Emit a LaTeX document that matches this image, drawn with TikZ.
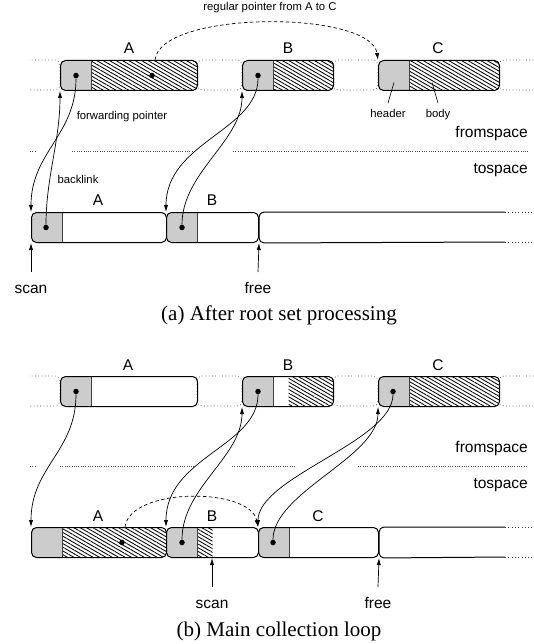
\documentclass[tikz,border=0pt]{standalone}
\usepackage{fontspec}
\setmainfont{Liberation Serif}
\setsansfont{Liberation Sans}
\usetikzlibrary{arrows.meta,patterns.meta}
\definecolor{hdrgray}{RGB}{204,204,204}

\tikzset{
  objbox/.style 2 args={draw, line width=1pt, rounded corners=5pt, minimum height=30pt, inner sep=0pt, anchor=north west,
    path picture={
      \fill[hdrgray, sharp corners] (path picture bounding box.north west) rectangle ([xshift=31pt]path picture bounding box.south west);
      \fill[pattern={Lines[angle=-30,distance=3.2pt,line width=0.85pt]}, sharp corners] ([xshift=#1]path picture bounding box.north west) rectangle ([xshift=#2]path picture bounding box.south west);
      \draw[divider, sharp corners] ([xshift=31pt]path picture bounding box.north west) -- ([xshift=31pt]path picture bounding box.south west);
    }},
  divider/.style={black!75, line width=0.8pt},
  freegap/.style={draw=black!80, line width=0.6pt, dash pattern=on 0.7pt off 2.6pt, rounded corners=5pt},
  spaceline/.style={black!70, line width=0.6pt, dash pattern=on 0.7pt off 1.6pt},
  ptdot/.style={circle, fill=black, inner sep=0pt, minimum size=5.5pt},
  ptr/.style={-{Latex[length=7pt,width=4.2pt]}, line width=0.7pt},
  dptr/.style={ptr, dash pattern=on 3.5pt off 2.5pt},
  leader/.style={line width=0.6pt},
  lblbig/.style={font=\sffamily\fontsize{15.5}{18}\selectfont, inner sep=0pt, anchor=base},
  lblsmall/.style={font=\sffamily\fontsize{11.3}{13}\selectfont, inner sep=0pt, anchor=base},
  capt/.style={font=\fontsize{21}{24}\selectfont, inner sep=0pt, anchor=base},
}

\begin{document}
\begin{tikzpicture}[x=1pt, y=-1pt]
\useasboundingbox (0,0) rectangle (534,644);

% (a) after root set processing
\begin{scope}
  \clip (29,0) rectangle (533.5,644);
  \draw[freegap] (20,60) rectangle (60,90);
  \draw[freegap] (197,60) rectangle (242,90);
  \draw[freegap] (333,60) rectangle (378,90);
  \draw[freegap] (499,60) rectangle (545,90);
  \draw[freegap] (505,212) -- (533,212);
  \draw[freegap] (505,242) -- (533,242);
\end{scope}
\node[objbox={31pt}{137pt}, minimum width=137pt] (fA) at (60,60) {};
\node[objbox={31pt}{91pt}, minimum width=91pt] (fB) at (242,60) {};
\node[objbox={31pt}{121pt}, minimum width=121pt] (fC) at (378,60) {};
\node[objbox={0pt}{0pt}, minimum width=135pt] (tA) at (31,212) {};
\node[objbox={0pt}{0pt}, minimum width=92pt] (tB) at (166,212) {};
\draw[line width=1pt, rounded corners=5pt] (505,212) -- (tB.north east) -- (tB.south east) -- (505,242);

\node[ptdot] (fAd) at ([xshift=16pt]fA.west) {};
\node[ptdot] (fAb) at ([xshift=92pt]fA.west) {};
\node[ptdot] (fBd) at ([xshift=16pt]fB.west) {};
\node[ptdot] (tAd) at ([xshift=15pt]tA.west) {};
\node[ptdot] (tBd) at ([xshift=16pt]tB.west) {};

\node[lblbig] (labA) at (129,54) {A};
\node[lblbig] (labB) at (288,54) {B};
\node[lblbig] (labC) at (438,54) {C};
\node[lblbig] (labtA) at (98,205) {A};
\node[lblbig] (labtB) at (212,205) {B};
\node[lblsmall] (regular) at (270,11) {regular pointer from A to C};
\node[lblsmall] (fwd) at (122,120) {forwarding pointer};
\node[lblsmall] (back) at (78,184) {backlink};
\node[lblsmall] (hdr) at (388,118) {header};
\node[lblsmall] (bdy) at (438,118) {body};
\node[lblbig, anchor=base east] (from1) at (528,138) {fromspace};
\node[lblbig, anchor=base east] (to1) at (528,174) {tospace};
\node[lblbig] (scan1) at (31,293) {scan};
\node[lblbig] (free1) at (258,293) {free};
\node[capt] (capa) at (279,320) {(a) After root set processing};

\draw[spaceline] (30,151) -- (36,151);
\draw[spaceline] (72,151) -- (195,151);
\draw[spaceline] (233,151) -- (528,151);

\draw[leader] ([yshift=15pt]hdr.base) -- ([xshift=16pt,yshift=-7pt]fC.west);
\draw[leader] ([yshift=15pt]bdy.base) -- ([xshift=54pt,yshift=-7pt]fC.west);

\draw[ptr] (fAd) .. controls +(0,60) and +(0,-60) .. (tA.north west);
\draw[ptr] (tAd) .. controls +(0,-50) and +(0,50) .. (fA.south west);
\draw[ptr] (fBd) .. controls +(0,55) and +(0,-70) .. (tB.north west);
\draw[ptr] (tBd) .. controls +(0,-55) and +(0,50) .. (fB.south west);
\draw[dptr] ([xshift=95pt]fA.north west) .. controls +(5,-50) and +(-7,-50) .. (fC.north west);
\draw[ptr] ([yshift=21pt]scan1.base) -- (tA.south west);
\draw[ptr] ([yshift=21pt]free1.base) -- (tB.south east);

% (b) main collection loop
\begin{scope}
  \clip (29,0) rectangle (533.5,644);
  \draw[freegap] (20,376) rectangle (60,406);
  \draw[freegap] (197,376) rectangle (242,406);
  \draw[freegap] (333,376) rectangle (378,406);
  \draw[freegap] (499,376) rectangle (545,406);
  \draw[freegap] (505,527) -- (533,527);
  \draw[freegap] (505,557) -- (533,557);
\end{scope}
\node[objbox={0pt}{0pt}, minimum width=137pt] (fA2) at (60,376) {};
\node[objbox={46pt}{91pt}, minimum width=91pt] (fB2) at (242,376) {};
\node[objbox={31pt}{121pt}, minimum width=121pt] (fC2) at (378,376) {};
\node[objbox={31pt}{135pt}, minimum width=135pt] (tA2) at (31,527) {};
\node[objbox={31pt}{46pt}, minimum width=92pt] (tB2) at (166,527) {};
\node[objbox={0pt}{0pt}, minimum width=120pt] (tC2) at (258,527) {};
\draw[line width=1pt, rounded corners=5pt] (505,527) -- (tC2.north east) -- (tC2.south east) -- (505,557);

\node[ptdot] (fAd2) at ([xshift=16pt]fA2.west) {};
\node[ptdot] (fBd2) at ([xshift=16pt]fB2.west) {};
\node[ptdot] (fCd2) at ([xshift=15pt]fC2.west) {};
\node[ptdot] (tAb2) at ([xshift=91pt]tA2.west) {};
\node[ptdot] (tBd2) at ([xshift=16pt]tB2.west) {};
\node[ptdot] (tCd2) at ([xshift=15pt]tC2.west) {};

\node[lblbig] (labA2) at (128,370) {A};
\node[lblbig] (labB2) at (288,370) {B};
\node[lblbig] (labC2) at (438,370) {C};
\node[lblbig] (labtA2) at (98,521) {A};
\node[lblbig] (labtB2) at (212,521) {B};
\node[lblbig] (labtC2) at (318,521) {C};
\node[lblbig, anchor=base east] (from2) at (528,452) {fromspace};
\node[lblbig, anchor=base east] (to2) at (528,488) {tospace};
\node[lblbig] (scan2) at (212,608) {scan};
\node[lblbig] (free2) at (378,608) {free};
\node[capt] (capb) at (279,636) {(b) Main collection loop};

\draw[spaceline] (30,466) -- (36,466);
\draw[spaceline] (60,466) -- (195,466);
\draw[spaceline] (232,466) -- (295,466);
\draw[spaceline] (358,466) -- (528,466);

\draw[ptr] (fAd2) .. controls +(0,60) and +(0,-60) .. (tA2.north west);
\draw[ptr] (fBd2) .. controls +(0,55) and +(0,-70) .. (tB2.north west);
\draw[ptr] (tBd2) .. controls +(0,-55) and +(0,50) .. (fB2.south west);
\draw[ptr] (fCd2) .. controls +(0,50) and +(0,-50) .. (tC2.north west);
\draw[ptr] (tCd2) .. controls +(0,-50) and +(0,50) .. (fC2.south west);
\draw[dptr] ([xshift=94pt]tA2.north west) .. controls +(5,-40) and +(-8,-40) .. (tC2.north west);
\draw[ptr] ([yshift=21pt]scan2.base) -- ([xshift=46pt]tB2.south west);
\draw[ptr] ([yshift=21pt]free2.base) -- (tC2.south east);
\end{tikzpicture}
\end{document}
